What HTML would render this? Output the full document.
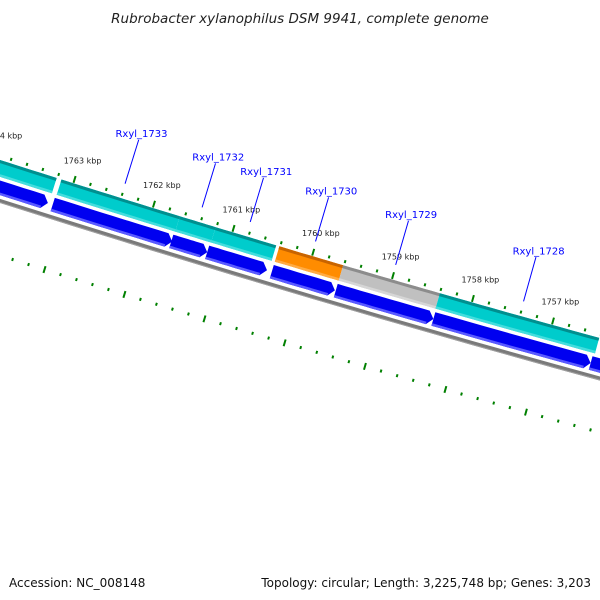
<!DOCTYPE html>
<html><head><meta charset="utf-8">
<style>
html,body{margin:0;padding:0;background:#fff;}
svg{display:block;font-family:"DejaVu Sans","Liberation Sans",sans-serif;}
</style></head>
<body>
<svg id="map" width="600" height="600" viewBox="0 0 600 600" xmlns="http://www.w3.org/2000/svg">
<rect width="600" height="600" fill="#fff"/>
<text x="300" y="23" text-anchor="middle" font-size="13.5" font-style="italic" fill="#222">Rubrobacter xylanophilus DSM 9941, complete genome</text>
<text x="9" y="587" font-size="12" fill="#111">Accession: NC_008148</text>
<text x="591" y="587" font-size="12" text-anchor="end" fill="#111">Topology: circular; Length: 3,225,748 bp; Genes: 3,203</text>
<g id="layer"></g>
</svg>
<script>
// ---- data ----
const fwdGeneNames = ["Rxyl_1734","Rxyl_1733","Rxyl_1732","Rxyl_1731","Rxyl_1730","Rxyl_1729","Rxyl_1728"];
const fwdGeneStart = [1764600,1763300,1761810,1761360,1760560,1759760,1758550];
const fwdGeneEnd   = [1763360,1761810,1761360,1760600,1759760,1758550,1756560];
const fwdGeneType  = ["cds","cds","cds","cds","rna","other","cds"];
const labeledGenes = ["Rxyl_1733","Rxyl_1732","Rxyl_1731","Rxyl_1730","Rxyl_1729","Rxyl_1728"];
const revGeneStart = [1765000,1763310,1761820,1761370,1760560,1759760,1758540,1756580];
const revGeneEnd   = [1763370,1761810,1761370,1760620,1759770,1758540,1756580,1755400];
const tickKbp = [1755,1756,1757,1758,1759,1760,1761,1762,1763,1764,1765];
const tickLabels = ["1755 kbp","1756 kbp","1757 kbp","1758 kbp","1759 kbp","1760 kbp","1761 kbp","1762 kbp","1763 kbp","1764 kbp","1765 kbp"];

// ---- geometry ----
const R = 15000, phi = Math.atan(0.295), bp0 = 1760000, pxPerBp = 0.0834;
const B0 = [313, 297];
const n = [Math.sin(phi), -Math.cos(phi)], t = [Math.cos(phi), Math.sin(phi)];
const C = [B0[0] + R*n[0], B0[1] + R*n[1]];
const tickShift = 150;
function pos(bp, v){
  const a = -(bp - bp0) * pxPerBp / R;
  const ca = Math.cos(a), sa = Math.sin(a), r = R - v;
  return [C[0] + r*(-n[0]*ca + t[0]*sa), C[1] + r*(-n[1]*ca + t[1]*sa)];
}
const NS = "http://www.w3.org/2000/svg";
const layer = document.getElementById('layer');
function mk(tag, attrs){ const e = document.createElementNS(NS, tag); for (const k in attrs) e.setAttribute(k, attrs[k]); layer.appendChild(e); return e; }
function arcPts(b1, b2, v){ const pts=[]; const N=12; for(let i=0;i<=N;i++){ pts.push(pos(b1+(b2-b1)*i/N, v)); } return pts; }
function band(b1,b2,v1,v2){ const a=arcPts(b1,b2,v2), b=arcPts(b2,b1,v1); return a.concat(b).map(p=>p[0].toFixed(1)+","+p[1].toFixed(1)).join(" "); }
function arrow(b1,b2,v1,v2,h){ const a=arcPts(b1,b2+h,v2), tip=[pos(b2,(v1+v2)/2)], b=arcPts(b2+h,b1,v1); return a.concat(tip,b).map(p=>p[0].toFixed(1)+","+p[1].toFixed(1)).join(" "); }

// backbone
let bb = mk('polyline', {points: arcPts(1766000,1754000,0).map(p=>p.join(",")).join(" "), fill:"none", stroke:"#7a7a7a", "stroke-width":4});


let bb2 = mk('polyline', {points: arcPts(1766000,1754000,-1.5).map(p=>p.join(",")).join(" "), fill:"none", stroke:"#a0a0a0", "stroke-width":1});



// reverse strand arrows
for (let i=0;i<revGeneStart.length;i++){
  const p = mk('polygon', {points: arrow(revGeneStart[i], revGeneEnd[i], 5.5, 19.5, 70), fill:"#0000f0"});
  
  
  const e = mk('polygon', {points: band(revGeneStart[i], revGeneEnd[i]+70, 5.5, 8), fill:"#5a5aff"});
  
  
}

// forward genes
const colors = {cds:["#00cccc","#008f8f","#44dddd"], rna:["#ff8c00","#c86400","#ffab44"], other:["#c0c0c0","#8c8c8c","#d6d6d6"]};
for (let i=0;i<fwdGeneStart.length;i++){
  const c = colors[fwdGeneType[i]];
  const p = mk('polygon', {points: band(fwdGeneStart[i], fwdGeneEnd[i], 23, 39), fill:c[0]});
  
  
  const top = mk('polygon', {points: band(fwdGeneStart[i], fwdGeneEnd[i], 36, 39), fill:c[1]});
  
  
  const bot = mk('polygon', {points: band(fwdGeneStart[i], fwdGeneEnd[i], 23, 25.5), fill:c[2]});
  
  
}

// ticks
function tickRow(v, offset, name){
  for (let bp = 1754000; bp <= 1766000; bp += 200){
    const major = (bp % 1000) === 0;
    const b = bp + offset;
    const a = pos(b, v - (major?3.5:1.5)), z = pos(b, v + (major?3.5:1.5));
    const l = mk('line', {x1:a[0], y1:a[1], x2:z[0], y2:z[1], stroke:"#008000", "stroke-width":2});
    
    
  }
}
tickRow(43, tickShift, 'outer');
tickRow(-52, 170, 'inner');
for (let i=0;i<tickKbp.length;i++){
  const p = pos(tickKbp[i]*1000 + tickShift, 63);
  const tx = mk('text', {x:p[0]+2, y:p[1]+3, "font-size":8, fill:"#222", "text-anchor":"middle"});
  tx.textContent = tickLabels[i];
  
  
}

// gene labels
for (let j=0;j<labeledGenes.length;j++){
  const i = fwdGeneNames.indexOf(labeledGenes[j]);
  const mid = (fwdGeneStart[i] + fwdGeneEnd[i]) / 2;
  const a = pos(mid, 54), z = pos(mid, 100);
  const l = mk('line', {x1:a[0], y1:a[1], x2:z[0], y2:z[1], stroke:"#0000ff", "stroke-width":1});
  
  
  const tp = pos(mid, 106);
  const tx = mk('text', {x:tp[0]+1, y:tp[1]+3, "font-size":10, fill:"#0000ff", "text-anchor":"middle"});
  tx.textContent = labeledGenes[j];
  
  
}
</script>
</body></html>
